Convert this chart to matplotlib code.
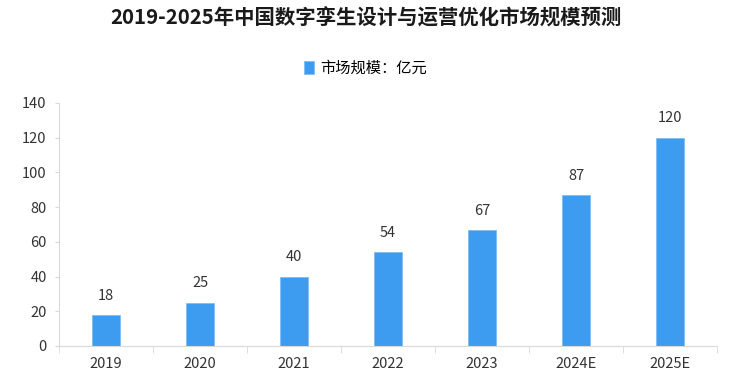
import matplotlib.pyplot as plt
import numpy as np

plt.rcParams['font.family'] = ['Noto Sans CJK SC', 'DejaVu Sans']

# Data
years = ['2019', '2020', '2021', '2022', '2023', '2024E', '2025E']
market_size = [18, 25, 40, 54, 67, 87, 120]

fig = plt.figure(figsize=(7.31, 3.84), dpi=100)
ax = fig.add_axes([0.081, 0.099, 0.9, 0.633])

x = np.arange(len(years))
bars = ax.bar(x, market_size, width=0.3, color='#3d9bf0', edgecolor='#7fbdf5',
              linewidth=0.6, label='市场规模：亿元')

# value labels above bars
for xi, v in zip(x, market_size):
    ax.text(xi, v + 7, str(v), ha='center', va='bottom', fontsize=10.5, color='#333333')

ax.set_xlim(-0.5, len(years) - 0.5)
ax.set_ylim(0, 140)
ax.set_yticks(range(0, 141, 20))
ax.set_xticks(x)
ax.set_xticklabels(years)
ax.set_xticks(np.arange(-0.5, len(years)), minor=True)
ax.tick_params(axis='x', which='major', length=0, pad=8, labelsize=10.5, colors='#333333')
ax.tick_params(axis='x', which='minor', length=5, color='#d9d9d9')
ax.tick_params(axis='y', length=3, color='#d9d9d9', labelsize=10.5, labelcolor='#333333', pad=6)

for side in ['top', 'right']:
    ax.spines[side].set_visible(False)
ax.spines['left'].set_color('#d9d9d9')
ax.spines['bottom'].set_color('#d9d9d9')

fig.text(0.5, 0.952, '2019-2025年中国数字孪生设计与运营优化市场规模预测',
         ha='center', va='center', fontsize=14.7, fontweight='bold', color='#1a1a1a')
fig.legend(handles=[bars], loc='center', bbox_to_anchor=(0.5, 0.823), frameon=False,
           fontsize=11, handlelength=0.7, handleheight=0.9, handletextpad=0.4)

fig.savefig('out.png', dpi=100)
